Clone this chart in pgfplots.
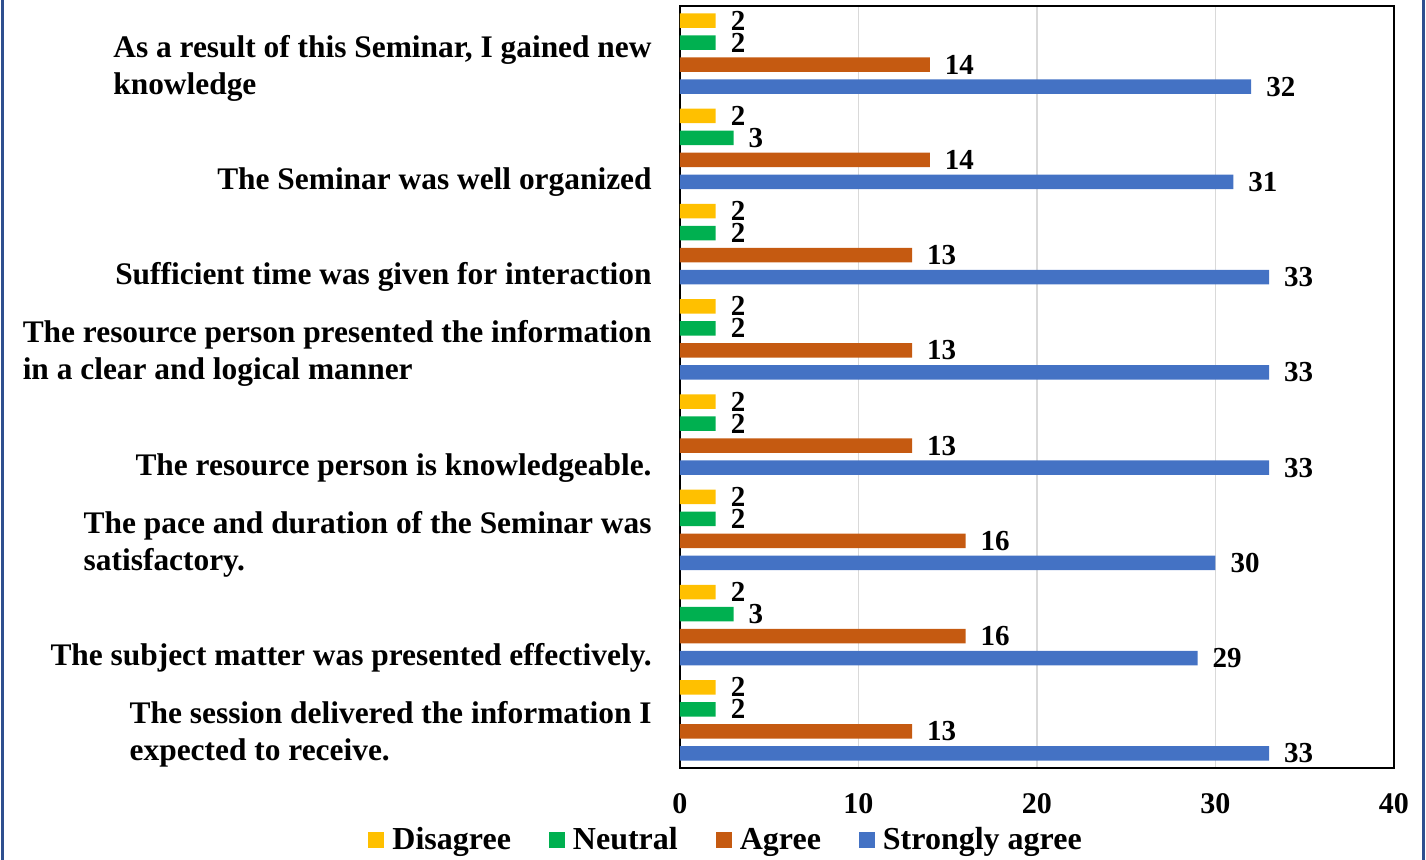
\documentclass[border=0pt]{standalone}
\usepackage{pgfplots}
\pgfplotsset{compat=1.18}
\usepackage{fontspec}
\setmainfont{Liberation Serif}
\definecolor{cDis}{HTML}{FFC000}
\definecolor{cNeu}{HTML}{00B050}
\definecolor{cAgr}{HTML}{C55A11}
\definecolor{cSA}{HTML}{4472C4}
\definecolor{frameblue}{HTML}{2F4F8F}
\begin{document}
\begin{tikzpicture}
\useasboundingbox (0,0) rectangle (713pt,430pt);
\draw[frameblue, line width=1.3pt] (1.3pt,0) -- (1.3pt,430pt);
\draw[frameblue, line width=1.3pt] (711.8pt,0) -- (711.8pt,430pt);
\begin{axis}[
  at={(340pt,46pt)}, anchor=south west,
  scale only axis, width=357pt, height=381pt,
  xbar, bar width=7.3pt,
  xmin=0, xmax=40, ymin=-0.5, ymax=7.5,
  xtick={0,10,20,30,40},
  ytick={0,...,7},
  major tick length=0pt,
  axis line style={black, line width=0.9pt},
  xmajorgrids, grid style={draw=black!15, line width=0.8pt},
  /pgf/number format/assume math mode=true,
  xticklabel style={font=\fontsize{15}{18}\selectfont\bfseries, yshift=-9pt},
  yticklabels={
    {The session delivered the information I\\expected to receive.\strut},
    {The subject matter was presented effectively.\strut},
    {The pace and duration of the Seminar was\\satisfactory.\strut},
    {The resource person is knowledgeable.\strut},
    {The resource person presented the information\\in a clear and logical manner\strut},
    {Sufficient time was given for interaction\strut},
    {The Seminar was well organized\strut},
    {As a result of this Seminar, I gained new\\knowledge\strut}},
  yticklabel style={font=\fontsize{15.7}{18.5}\selectfont\bfseries, align=left, anchor=south east, inner sep=0pt, xshift=-14pt, yshift=-26pt},
  nodes near coords,
  every node near coord/.append style={font=\fontsize{14.5}{17}\selectfont\bfseries, black, anchor=west, xshift=4pt},
  legend columns=4,
  legend style={draw=none, at={(0.066,-0.0945)}, anchor=center, font=\fontsize{16}{19}\selectfont\bfseries,
    /tikz/every even column/.append style={column sep=17pt},
    /tikz/every odd column/.append style={column sep=2pt}},
  legend image code/.code={\fill[#1] (0pt,-4pt) rectangle (8pt,4pt);},
]
\addplot[draw=none, fill=cDis, bar shift=16.5pt] coordinates {(2,0) (2,1) (2,2) (2,3) (2,4) (2,5) (2,6) (2,7)};
\addplot[draw=none, fill=cNeu, bar shift=5.5pt] coordinates {(2,0) (3,1) (2,2) (2,3) (2,4) (2,5) (3,6) (2,7)};
\addplot[draw=none, fill=cAgr, bar shift=-5.5pt] coordinates {(13,0) (16,1) (16,2) (13,3) (13,4) (13,5) (14,6) (14,7)};
\addplot[draw=none, fill=cSA, bar shift=-16.5pt] coordinates {(33,0) (29,1) (30,2) (33,3) (33,4) (33,5) (31,6) (32,7)};
\legend{Disagree, Neutral, Agree, Strongly agree}
\end{axis}
\end{tikzpicture}
\end{document}
